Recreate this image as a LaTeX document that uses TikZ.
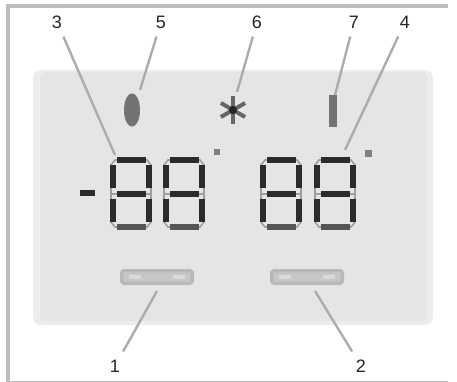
\documentclass[tikz,border=0pt]{standalone}
\usepackage{fontspec}
\setmainfont{Liberation Sans}
\usetikzlibrary{shapes.geometric, calc}
\definecolor{panelgray}{HTML}{E4E6E5}
\definecolor{haloray}{HTML}{ECEEED}
\definecolor{framegray}{HTML}{BDBDBD}
\definecolor{leadgray}{HTML}{ABADAC}
\definecolor{seggray}{HTML}{2B2B2B}
\tikzset{
  numlabel/.style={font=\fontsize{13.5}{14}\selectfont, text=black!85, inner sep=6pt},
  leadline/.style={draw=leadgray, line width=1.8pt},
  softbtn/.style={draw=black!28, fill=black!22, line width=2.5pt, rounded corners=2pt, minimum width=53pt, minimum height=9.5pt, inner sep=0pt},
  segh/.style={draw=seggray, line width=3.8pt},
  segv/.style={draw=seggray, line width=3.8pt}
}
\begin{document}
\begin{tikzpicture}[x=0.75pt, y=-0.75pt]
    \useasboundingbox (0, 0) rectangle (457, 382);
    \fill[white] (0, 0) rectangle (457, 382);

    % 外框
    \draw[framegray, line width=2.6pt] (8, 382) -- (8, 6) -- (448, 6);
    \draw[framegray, line width=1pt] (8, 381.5) -- (448, 381.5);

    % 显示面板
    \fill[haloray, rounded corners=6pt] (33, 70) rectangle (433, 325);
    \fill[panelgray, rounded corners=4pt] (40, 72) rectangle (427, 321);

    % 数码管
    \foreach \dx in {110, 163, 260, 314} {
        \draw[black!38, line width=1.2pt] (\dx+5, 160) -- (\dx+37, 160) -- (\dx+41, 165) -- (\dx+41, 222)
            -- (\dx+37, 227) -- (\dx+5, 227) -- (\dx+1, 222) -- (\dx+1, 165) -- cycle;
        \draw[black!38, line width=1.2pt] (\dx+1, 194) -- (\dx+41, 194);
        \draw[segh] (\dx+7, 160) -- (\dx+36, 160);
        \draw[segh] (\dx+7, 194) -- (\dx+36, 194);
        \draw[segh, draw=seggray!80] (\dx+7, 227) -- (\dx+36, 227);
        \draw[segv] (\dx+3, 165) -- (\dx+3, 188);
        \draw[segv] (\dx+39, 165) -- (\dx+39, 188);
        \draw[segv] (\dx+3, 199) -- (\dx+3, 222);
        \draw[segv] (\dx+39, 199) -- (\dx+39, 222);
    }

    % 负号和度数
    \draw[segh] (80, 193) -- (95, 193);
    \fill[black!50] (214, 149) rectangle (220, 155);
    \fill[black!50] (365, 150) rectangle (372, 157);

    % 图标
    \node[fill=black!55, ellipse, minimum width=12pt, minimum height=25pt, inner sep=0pt] (drop) at (132, 110) {};
    \node[fill=black!55, minimum width=6pt, minimum height=24pt, inner sep=0pt] (heat) at (333, 111) {};
    \coordinate (flake) at (233, 110);
    \foreach \ang in {30, 90, 150} {
        \draw[black!60, line width=3pt] ($(flake)+(\ang:14)$) -- ($(flake)+(\ang+180:14)$);
    }
    \fill[black!85] (flake) circle (4);

    % 按键
    \node[softbtn] (btnL) at (157, 277) {};
    \node[softbtn] (btnR) at (307, 277) {};
    \foreach \hx in {135, 179, 285, 329} {
        \fill[white!85!black] (\hx-6, 275) rectangle (\hx+6, 279);
    }

    % 编号
    \node[numlabel] (lab3) at (57, 22) {3};
    \node[numlabel] (lab5) at (161, 22) {5};
    \node[numlabel] (lab6) at (257, 22) {6};
    \node[numlabel] (lab7) at (354, 22) {7};
    \node[numlabel] (lab4) at (405, 22) {4};
    \node[numlabel] (lab1) at (115, 366) {1};
    \node[numlabel] (lab2) at (361, 366) {2};

    % 引线
    \coordinate (tip3) at (115, 155);
    \coordinate (tip5) at (140, 90);
    \coordinate (tip6) at (237, 92);
    \coordinate (tip7) at (335, 95);
    \coordinate (tip4) at (345, 150);
    \coordinate (tip1) at (157, 291);
    \coordinate (tip2) at (315, 291);
    \foreach \idx in {1, ..., 7} {
        \draw[leadline] (lab\idx) -- (tip\idx);
    }
\end{tikzpicture}
\end{document}
